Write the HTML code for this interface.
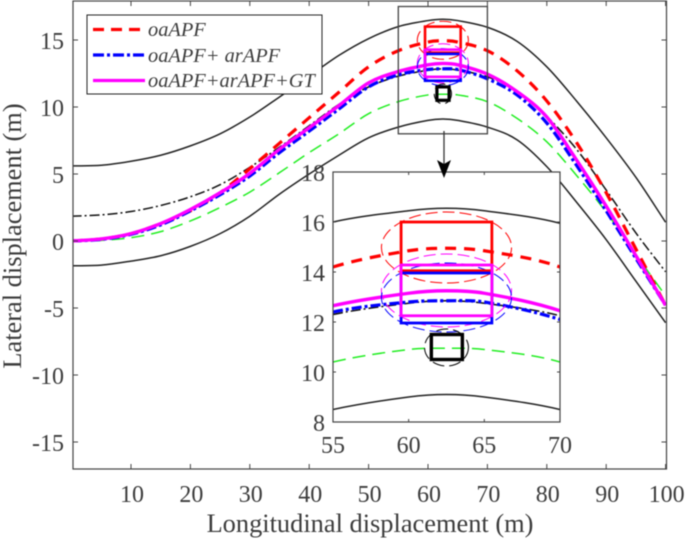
<!DOCTYPE html>
<html lang="en">
<head>
<meta charset="utf-8">
<title>Lateral vs longitudinal displacement</title>
<style>
html,body{margin:0;padding:0;background:#fff;width:685px;height:541px;overflow:hidden;}
svg{display:block;filter:blur(0.45px);}
text{font-family:"Liberation Serif",serif;fill:#3c3c3c;}
</style>
</head>
<body>
<svg id="chart" xmlns="http://www.w3.org/2000/svg" width="685" height="541" viewBox="0 0 685 541">
  <defs>
    <clipPath id="main-clip"><rect x="73" y="1" width="593.5" height="468"/></clipPath>
    <clipPath id="inset-clip"><rect x="333" y="172" width="227" height="250"/></clipPath>
  </defs>
  <g id="main-plot"></g>
  <g id="inset-plot"></g>
  <text x="370" y="532" text-anchor="middle" font-size="26.4">Longitudinal displacement (m)</text>
  <text transform="translate(21,236) rotate(-90)" text-anchor="middle" font-size="26.4">Lateral displacement (m)</text>
  <g>
    <line x1="444" y1="131" x2="444" y2="165" stroke="#333" stroke-width="1.3"/>
    <polygon points="437,160 444,164 451,160 444,178" fill="#000"/>
  </g>
  <g>
    <rect x="87" y="15" width="235" height="79" fill="#fff" stroke="#222" stroke-width="1"/>
    <line x1="93" y1="29.5" x2="145" y2="29.5" stroke="#ff0000" stroke-width="3.2" stroke-dasharray="11 7"/>
    <text x="148" y="36" font-size="20.4" font-style="italic">oaAPF</text>
    <line x1="93" y1="55" x2="145" y2="55" stroke="#0000ff" stroke-width="3.2" stroke-dasharray="11 3 3 3"/>
    <text x="148" y="62" font-size="20.4" font-style="italic">oaAPF+ arAPF</text>
    <line x1="93" y1="80.5" x2="145" y2="80.5" stroke="#ff00ff" stroke-width="3.2"/>
    <text x="148" y="87" font-size="20.4" font-style="italic">oaAPF+arAPF+GT</text>
  </g>
</svg>
<script>
const xSamples = [0, 5, 10, 15, 20, 25, 30, 35, 40, 45, 50, 55, 60, 62.5, 65, 70, 75, 80, 85, 90, 95, 100];
const upperBoundary = [5.6, 5.65, 5.95, 6.4, 7.1, 8.0, 9.25, 10.75, 12.3, 13.85, 15.1, 16.0, 16.45, 16.55, 16.45, 15.95, 14.9, 13.0, 10.45, 7.7, 4.75, 1.4];
const lowerBoundary = [-1.85, -1.8, -1.5, -1.1, -0.4, 0.55, 1.85, 3.5, 5.0, 6.4, 7.7, 8.5, 9.0, 9.1, 9.0, 8.5, 7.55, 5.55, 2.9, 0.1, -3, -6.1];
const centerLine = [1.85, 1.95, 2.2, 2.65, 3.3, 4.2, 5.5, 7.0, 8.6, 10.2, 11.5, 12.3, 12.75, 12.85, 12.75, 12.25, 11.2, 9.3, 6.85, 3.8, 0.6, -2.3];
const greenLine = [0, 0.05, 0.25, 0.7, 1.5, 2.5, 3.65, 5.1, 6.6, 8.0, 9.5, 10.4, 10.9, 10.95, 10.9, 10.4, 9.15, 7.4, 4.9, 2.15, -1, -4.1];
const oaApf = [0, 0.15, 0.55, 1.3, 2.25, 3.6, 5.4, 7.3, 9.2, 11.1, 13.0, 14.2, 14.85, 14.95, 14.85, 14.2, 12.7, 10.45, 7.35, 3.6, -0.6, -4.8];
const oaArApf = [0, 0.12, 0.5, 1.2, 2.25, 3.45, 4.85, 6.6, 8.2, 9.85, 11.5, 12.4, 12.8, 12.85, 12.8, 12.1, 10.9, 8.8, 5.65, 2.25, -1.3, -4.8];
const oaArApfGt = [0, 0.15, 0.55, 1.3, 2.35, 3.6, 5.05, 6.85, 8.45, 10.1, 11.8, 12.65, 13.15, 13.25, 13.15, 12.45, 11.15, 9.25, 6.05, 2.6, -1.1, -4.8];

const mainXTicks = [10, 20, 30, 40, 50, 60, 70, 80, 90, 100];
const mainYTicks = [15, 10, 5, 0, -5, -10, -15];
const insetXTicks = [55, 60, 65, 70];
const insetYTicks = [18, 16, 14, 12, 10, 8];

const NS = 'http://www.w3.org/2000/svg';

function mainX(v) { return 131 + (v - 10) * 5.94; }
function mainY(v) { return 241 - v * 13.4; }
function insetX(v) { return 333 + (v - 55) * 15.13; }
function insetY(v) { return 422 - (v - 8) * 25; }

function make(parent, tag, attrs) {
  const el = document.createElementNS(NS, tag);
  Object.keys(attrs).forEach(function (k) { el.setAttribute(k, attrs[k]); });
  parent.appendChild(el);
  return el;
}

function smoothPath(xs, ys, sx, sy, xMin, xMax) {
  const p = xs.map(function (x, i) { return [sx(x), sy(ys[i])]; });
  let d = '';
  for (let i = 0; i < p.length - 1; i++) {
    if (xs[i] < xMin || xs[i + 1] > xMax) { continue; }
    const a = p[Math.max(i - 1, 0)], b = p[i], c = p[i + 1], e = p[Math.min(i + 2, p.length - 1)];
    const h = c[0] - b[0];
    const m1 = (c[1] - a[1]) / ((c[0] - a[0]) || 1);
    const m2 = (e[1] - b[1]) / ((e[0] - b[0]) || 1);
    if (d === '') { d = 'M' + b[0].toFixed(2) + ' ' + b[1].toFixed(2); }
    d += ' C' + (b[0] + h / 3).toFixed(2) + ' ' + (b[1] + m1 * h / 3).toFixed(2) +
         ' ' + (c[0] - h / 3).toFixed(2) + ' ' + (c[1] - m2 * h / 3).toFixed(2) +
         ' ' + c[0].toFixed(2) + ' ' + c[1].toFixed(2);
  }
  return d;
}

function drawCurves(group, sx, sy, prefix, xMin, xMax) {
  const upper = make(group, 'path', { d: smoothPath(xSamples, upperBoundary, sx, sy, xMin, xMax), fill: 'none', stroke: '#222', 'stroke-width': 1.5 });
  
  
  const lower = make(group, 'path', { d: smoothPath(xSamples, lowerBoundary, sx, sy, xMin, xMax), fill: 'none', stroke: '#222', 'stroke-width': 1.5 });
  
  
  const center = make(group, 'path', { d: smoothPath(xSamples, centerLine, sx, sy, xMin, xMax), fill: 'none', stroke: '#111', 'stroke-width': 1.5, 'stroke-dasharray': '10 3 2 3' });
  
  
  const green = make(group, 'path', { d: smoothPath(xSamples, greenLine, sx, sy, xMin, xMax), fill: 'none', stroke: '#22ee22', 'stroke-width': 1.5, 'stroke-dasharray': '13 7' });
  
  
  const red = make(group, 'path', { d: smoothPath(xSamples, oaApf, sx, sy, xMin, xMax), fill: 'none', stroke: '#ff0000', 'stroke-width': 3.2, 'stroke-dasharray': '11 8' });
  
  
  const blue = make(group, 'path', { d: smoothPath(xSamples, oaArApf, sx, sy, xMin, xMax), fill: 'none', stroke: '#0000ff', 'stroke-width': 3.2, 'stroke-dasharray': '10 3 3 3' });
  
  
  const magenta = make(group, 'path', { d: smoothPath(xSamples, oaArApfGt, sx, sy, xMin, xMax), fill: 'none', stroke: '#ff00ff', 'stroke-width': 3.4 });
  
  
}

const obstacleBoxes = [
  { key: 'red', color: '#ff0000', x0: 59.5, x1: 65.5, y0: 14.05, y1: 16 },
  { key: 'blue', color: '#0000ff', x0: 59.5, x1: 65.5, y0: 11.96, y1: 13.96 },
  { key: 'magenta', color: '#ff00ff', x0: 59.5, x1: 65.5, y0: 12.25, y1: 14.28 },
  { key: 'black', color: '#000000', x0: 61.5, x1: 63.55, y0: 10.5, y1: 11.5 }
];
const safetyEllipses = [
  { key: 'red', color: '#ff0000', cx: 62.5, cy: 14.98, rx: 4.3, ry: 1.42 },
  { key: 'magenta', color: '#ff00ff', cx: 62.5, cy: 13.26, rx: 4.3, ry: 1.46 },
  { key: 'blue', color: '#0000ff', cx: 62.5, cy: 12.98, rx: 4.3, ry: 1.38 },
  { key: 'black', color: '#000000', cx: 62.5, cy: 10.98, rx: 1.45, ry: 0.74 }
];

function drawObstacles(group, sx, sy, prefix, boxWidth) {
  safetyEllipses.forEach(function (o) {
    const el = make(group, 'ellipse', {
      cx: sx(o.cx), cy: sy(o.cy),
      rx: Math.abs(sx(o.cx + o.rx) - sx(o.cx)), ry: Math.abs(sy(o.cy + o.ry) - sy(o.cy)),
      fill: 'none', stroke: o.color, 'stroke-width': 1, 'stroke-dasharray': '12 5'
    });
    
    
  });
  obstacleBoxes.forEach(function (b) {
    const el = make(group, 'rect', {
      x: sx(b.x0), y: sy(b.y1), width: sx(b.x1) - sx(b.x0), height: sy(b.y0) - sy(b.y1),
      fill: 'none', stroke: b.color, 'stroke-width': b.key === 'black' ? boxWidth + 0.6 : boxWidth
    });
    
    
  });
}

function drawMain() {
  const g = document.getElementById('main-plot');
  const L = 73, R = 666.5, T = 1, B = 469;
  const bg = make(g, 'rect', { x: L, y: T, width: R - L, height: B - T, fill: '#fff' });
  
  
  const curves = make(g, 'g', { 'clip-path': 'url(#main-clip)' });
  
  
  drawCurves(curves, mainX, mainY, 'main', 0, 100);
  drawObstacles(curves, mainX, mainY, 'main', 2.6);

  const frame = make(g, 'rect', { x: L, y: T, width: R - L, height: B - T, fill: 'none', stroke: '#444', 'stroke-width': 1.2 });
  
  

  mainXTicks.forEach(function (v) {
    const x = mainX(v);
    const t1 = make(g, 'path', { d: 'M' + x + ' ' + B + 'v-5M' + x + ' ' + T + 'v5', stroke: '#444', 'stroke-width': 1, fill: 'none' });
    
    
    const lab = make(g, 'text', { x: x + 1, y: 502, 'text-anchor': 'middle', 'font-size': 24 });
    
    
    lab.textContent = v;
  });
  mainYTicks.forEach(function (v) {
    const y = mainY(v);
    const t1 = make(g, 'path', { d: 'M' + L + ' ' + y + 'h5M' + R + ' ' + y + 'h-5', stroke: '#444', 'stroke-width': 1, fill: 'none' });
    
    
    const lab = make(g, 'text', { x: 64, y: y + 9, 'text-anchor': 'end', 'font-size': 24 });
    
    
    lab.textContent = v;
  });

  const zoom = make(g, 'rect', { x: mainX(55), y: mainY(17.5), width: mainX(70) - mainX(55), height: mainY(8) - mainY(17.5), fill: 'none', stroke: '#444', 'stroke-width': 1.3 });
  
  
}

function drawInset() {
  const g = document.getElementById('inset-plot');
  const L = 333, R = 560, T = 172, B = 422;
  const bg = make(g, 'rect', { x: L, y: T, width: R - L, height: B - T, fill: '#fff' });
  
  
  const curves = make(g, 'g', { 'clip-path': 'url(#inset-clip)' });
  
  
  drawCurves(curves, insetX, insetY, 'inset', 55, 70);
  drawObstacles(curves, insetX, insetY, 'inset', 2.8);

  const frame = make(g, 'rect', { x: L, y: T, width: R - L, height: B - T, fill: 'none', stroke: '#444', 'stroke-width': 1.2 });
  
  

  insetXTicks.forEach(function (v) {
    const x = insetX(v);
    const t1 = make(g, 'path', { d: 'M' + x + ' ' + B + 'v-3M' + x + ' ' + T + 'v3', stroke: '#444', 'stroke-width': 1, fill: 'none' });
    
    
    const lab = make(g, 'text', { x: x, y: 453, 'text-anchor': 'middle', 'font-size': 24 });
    
    
    lab.textContent = v;
  });
  insetYTicks.forEach(function (v) {
    const y = insetY(v);
    const t1 = make(g, 'path', { d: 'M' + L + ' ' + y + 'h3M' + R + ' ' + y + 'h-3', stroke: '#444', 'stroke-width': 1, fill: 'none' });
    
    
    const lab = make(g, 'text', { x: 325, y: y + 9, 'text-anchor': 'end', 'font-size': 24 });
    
    
    lab.textContent = v;
  });
}

drawMain();
drawInset();
</script>
</body>
</html>
